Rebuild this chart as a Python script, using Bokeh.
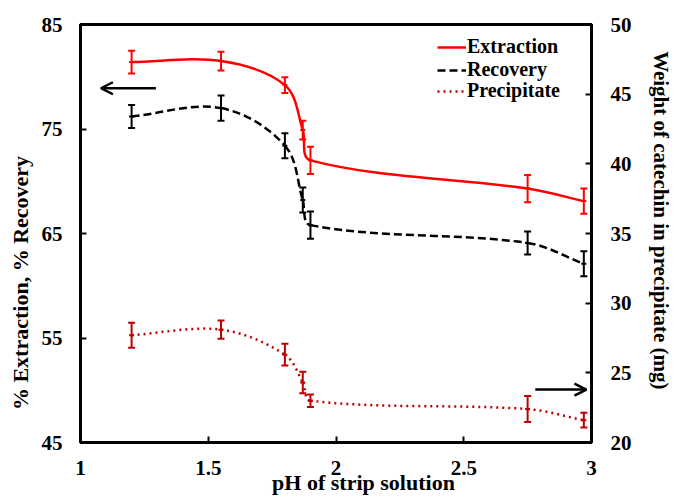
import math
from bokeh.plotting import figure
from bokeh.models import (Range1d, LinearAxis, ColumnDataSource,
                          Legend, LegendItem, Arrow, OpenHead, FixedTicker)
from bokeh.embed import file_html
from bokeh.resources import INLINE

# ---------------- data ----------------
ph = [1.2, 1.55, 1.8, 1.87, 1.9, 2.75, 2.97]
extraction = [81.4, 81.5, 79.2, 74.9, 72.0, 69.3, 68.1]
extraction_err = [1.1, 0.9, 0.75, 0.9, 1.3, 1.3, 1.2]
recovery = [76.2, 77.0, 73.4, 68.2, 65.8, 64.1, 62.1]
recovery_err = [1.1, 1.2, 1.2, 1.2, 1.3, 1.1, 1.2]
precipitate = [27.7, 28.1, 26.3, 24.3, 23.0, 22.4, 21.6]
precipitate_err = [0.9, 0.66, 0.78, 0.77, 0.45, 0.93, 0.53]

x_ticks = [1, 1.5, 2, 2.5, 3]
left_ticks = [45, 55, 65, 75, 85]
right_ticks = [20, 25, 30, 35, 40, 45, 50]

x_title = "pH of strip solution"
left_title = "% Extraction, % Recovery"
right_title = "Weight of catechin in precipitate (mg)"

# arrows (left-axis arrow, right-axis arrow)
arrow_left = dict(x_start=1.295, x_end=1.08, y=78.9)
arrow_right = dict(x_start=2.78, x_end=2.98, y=23.8)

FONT = "Liberation Serif"
NB = "\u00a0"
W, H = 678, 499
BL, BR, BT, BB = 80, 87, 24, 57
FW, FH = W - BL - BR, H - BT - BB

p = figure(width=W, height=H, output_backend="svg", toolbar_location=None,
           x_range=Range1d(1, 3), y_range=Range1d(45, 85),
           min_border_left=BL, min_border_right=BR, min_border_top=BT,
           min_border_bottom=BB)
p.extra_y_ranges = {"right": Range1d(20, 50)}
p.xgrid.visible = False
p.ygrid.visible = False
p.outline_line_color = "black"
p.outline_line_width = 3
p.background_fill_color = "white"
p.border_fill_color = "white"

sx = FW / 2.0
sy_left = FH / 40.0
sy_right = FH / 30.0

right_axis = LinearAxis(y_range_name="right")
p.add_layout(right_axis, "right")
left_axis = [a for a in p.left if isinstance(a, LinearAxis)][0]
bottom_axis = [a for a in p.below if isinstance(a, LinearAxis)][0]

for ax, ticks, standoff in [(bottom_axis, x_ticks, 18), (left_axis, left_ticks, 18),
                            (right_axis, right_ticks, 19)]:
    ax.ticker = FixedTicker(ticks=ticks)
    ax.axis_line_width = 3
    ax.axis_line_color = "black"
    ax.major_tick_in = 6
    ax.major_tick_out = 0
    ax.major_tick_line_width = 2
    ax.minor_tick_line_color = None
    ax.major_label_text_font = FONT
    ax.major_label_text_font_style = "bold"
    ax.major_label_text_font_size = "21px"
    ax.major_label_text_color = "black"
    ax.major_label_standoff = standoff
    ax.axis_label_text_font = FONT
    ax.axis_label_text_font_style = "bold"
    ax.axis_label_text_font_size = "22px"
    ax.axis_label_text_color = "black"

# axis titles, nudged along the axis with non-breaking spaces
bottom_axis.axis_label = NB * 10 + x_title
bottom_axis.axis_label_standoff = -8
left_axis.axis_label = left_title + NB * 18
left_axis.axis_label_standoff = 6
right_axis.axis_label = right_title + NB * 5
right_axis.axis_label_text_font_size = "21px"
right_axis.axis_label_standoff = 14


# ---------------- smooth curves (Excel-like) ----------------
def smooth_segments(xs, ys, sy, k=1.0 / 3.0):
    P = [(x * sx, y * sy) for x, y in zip(xs, ys)]
    n = len(P)
    T = []
    for i in range(n):
        if i == 0:
            a, b = P[0], P[1]
        elif i == n - 1:
            a, b = P[n - 2], P[n - 1]
        else:
            a, b = P[i - 1], P[i + 1]
        dx, dy = b[0] - a[0], b[1] - a[1]
        L = math.hypot(dx, dy)
        T.append((dx / L, dy / L))
    out = dict(x0=[], y0=[], x1=[], y1=[], cx0=[], cy0=[], cx1=[], cy1=[])
    for i in range(n - 1):
        a, b = P[i], P[i + 1]
        L = math.hypot(b[0] - a[0], b[1] - a[1]) * k
        c0 = (a[0] + T[i][0] * L, a[1] + T[i][1] * L)
        c1 = (b[0] - T[i + 1][0] * L, b[1] - T[i + 1][1] * L)
        out["x0"].append(a[0] / sx); out["y0"].append(a[1] / sy)
        out["x1"].append(b[0] / sx); out["y1"].append(b[1] / sy)
        out["cx0"].append(c0[0] / sx); out["cy0"].append(c0[1] / sy)
        out["cx1"].append(c1[0] / sx); out["cy1"].append(c1[1] / sy)
    return out


RED = "#FF0000"
DARKRED = "#C00000"

bz = dict(x0="x0", y0="y0", x1="x1", y1="y1", cx0="cx0", cy0="cy0",
          cx1="cx1", cy1="cy1")
r_ext = p.bezier(source=ColumnDataSource(smooth_segments(ph, extraction, sy_left)),
                 line_color=RED, line_width=2.5, **bz)
r_rec = p.bezier(source=ColumnDataSource(smooth_segments(ph, recovery, sy_left)),
                 line_color="black", line_width=2.5, line_dash="8 4", **bz)
r_pre = p.bezier(source=ColumnDataSource(smooth_segments(ph, precipitate, sy_right)),
                 line_color=DARKRED, line_width=2.5, line_dash="2 4",
                 y_range_name="right", **bz)


def add_err(vals, errs, color, range_name="default"):
    src = ColumnDataSource(dict(x=ph, y=vals,
                                lo=[v - e for v, e in zip(vals, errs)],
                                hi=[v + e for v, e in zip(vals, errs)]))
    p.segment(x0="x", x1="x", y0="lo", y1="hi", source=src, line_color=color,
              line_width=2, y_range_name=range_name)
    for col in ("lo", "hi"):
        p.scatter("x", col, source=src, marker="dash", size=7, line_color=color,
                  line_width=2, y_range_name=range_name)
    p.scatter("x", "y", source=src, marker="dash", size=5, line_color=color,
              line_width=2, y_range_name=range_name)


add_err(extraction, extraction_err, RED)
add_err(recovery, recovery_err, "black")
add_err(precipitate, precipitate_err, DARKRED, "right")

# ---------------- arrows ----------------
p.add_layout(Arrow(end=OpenHead(size=12, line_width=2.5, line_color="black"),
                   x_start=arrow_left["x_start"], x_end=arrow_left["x_end"],
                   y_start=arrow_left["y"], y_end=arrow_left["y"],
                   line_width=2.5, line_color="black"))
p.add_layout(Arrow(end=OpenHead(size=12, line_width=2.5, line_color="black"),
                   x_start=arrow_right["x_start"], x_end=arrow_right["x_end"],
                   y_start=arrow_right["y"], y_end=arrow_right["y"],
                   line_width=2.5, line_color="black", y_range_name="right"))

# ---------------- legend (one entry per box for tight rows) ----------------
legend_rows = [("Extraction", r_ext, 384), ("Recovery", r_rec, 361),
               ("Precipitate", r_pre, 340)]
for lab, rend, ybot in legend_rows:
    lg = Legend(items=[LegendItem(label=lab, renderers=[rend], index=0)],
                location=(357, ybot), padding=0, spacing=0, margin=0,
                glyph_width=29, glyph_height=20, label_height=20,
                label_standoff=1, border_line_color=None,
                background_fill_alpha=0,
                label_text_font=FONT, label_text_font_style="bold",
                label_text_font_size="20px", label_text_color="black")
    p.add_layout(lg)

open("out.html", "w").write(file_html(p, INLINE))
